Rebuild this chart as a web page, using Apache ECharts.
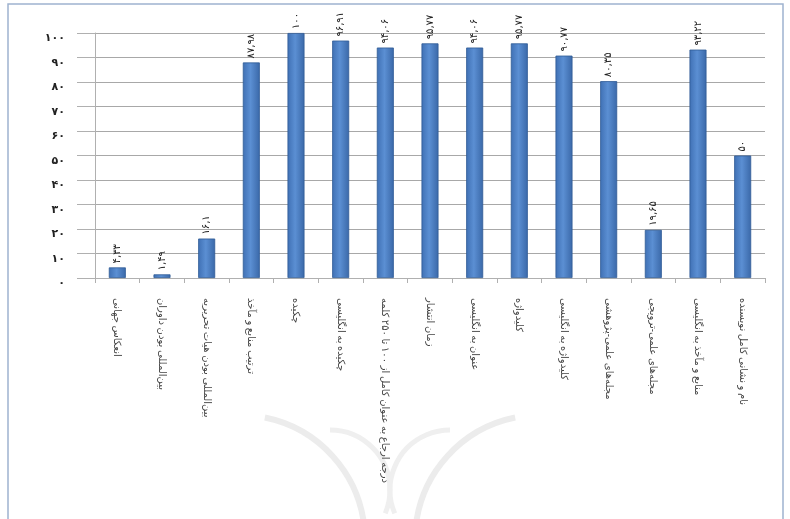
<!DOCTYPE html>
<html><head><meta charset="utf-8">
<script src="https://cdn.jsdelivr.net/npm/echarts@6/dist/echarts.min.js"></script>
<style>html,body{margin:0;padding:0;background:#fff}#c{width:790px;height:519px}</style>
</head><body><div id="c"></div>
<script>
const categories = [
  'انعکاس جهانی',
  'بین‌المللی بودن داوران',
  'بین‌المللی بودن هیات تحریریه',
  'ترتیب منابع و مآخذ',
  'چکیده',
  'چکیده به انگلیسی',
  'درجه ارجاع به عنوان کامل از ۱۰۰ تا ۲۵۰ کلمه',
  'زمان انتشار',
  'عنوان به انگلیسی',
  'کلیدواژه',
  'کلیدواژه به انگلیسی',
  'مجله‌های علمی-پژوهشی',
  'مجله‌های علمی-ترویجی',
  'منابع و مآخذ به انگلیسی',
  'نام و نشانی کامل نویسنده'
];
const values = [4.33, 1.49, 16.1, 87.98, 100, 96.91, 94.06, 95.77, 94.06, 95.77, 90.77, 80.35, 19.65, 93.22, 50];
const yTicks = [0, 10, 20, 30, 40, 50, 60, 70, 80, 90, 100];

const fa = s => String(s).replace(/\d/g, d => '۰۱۲۳۴۵۶۷۸۹'[d]).replace('.', ',');

const chart = echarts.init(document.getElementById('c'));
chart.setOption({
  backgroundColor: '#fff',
  animation: false,
  grid: { left: 95, right: 25, top: 33, bottom: 241 },
  xAxis: {
    type: 'category',
    data: categories,
    axisLine: { lineStyle: { color: '#b0b0b0' } },
    axisTick: { show: true, alignWithLabel: false, lineStyle: { color: '#b0b0b0' } },
    axisLabel: {
      interval: 0, rotate: -90, margin: 20,
      fontFamily: 'Noto Sans, DejaVu Sans', fontSize: 10, color: '#444'
    }
  },
  yAxis: {
    type: 'value', min: yTicks[0], max: yTicks[yTicks.length - 1], interval: 10,
    axisLine: { show: true, lineStyle: { color: '#b0b0b0' } },
    axisTick: { show: true, length: 18, lineStyle: { color: '#b0b0b0' } },
    axisLabel: {
      margin: 30, fontSize: 11, fontWeight: 'bold', color: '#222', fontFamily: 'DejaVu Sans',
      verticalAlign: 'top',
      formatter: v => fa(v)
    },
    splitLine: { lineStyle: { color: '#a8a8a8', width: 1 } }
  },
  series: [{
    type: 'bar',
    data: values,
    barWidth: 17,
    itemStyle: {
      color: new echarts.graphic.LinearGradient(0, 0, 1, 0, [
        { offset: 0, color: '#3f70b4' },
        { offset: 0.45, color: '#5b8fd3' },
        { offset: 1, color: '#3a68a8' }
      ]),
      borderColor: '#2f5a96', borderWidth: 0.8
    },
    label: {
      show: true, position: 'top', rotate: 90, distance: 4,
      align: 'left', verticalAlign: 'middle',
      fontSize: 10, color: '#222', fontFamily: 'DejaVu Sans',
      formatter: p => fa(p.value)
    }
  }],
  graphic: [
    { type: 'rect', shape: { x: 8, y: 4, width: 775, height: 520 }, style: { fill: 'none', stroke: '#9fb3cf', lineWidth: 1.5 }, silent: true, z: -1 },
    { type: 'arc', shape: { cx: 240, cy: 540, r: 125, startAngle: -Math.PI/2 + 0.2, endAngle: -0.1 }, style: { fill: 'none', stroke: '#ececec', lineWidth: 6 }, silent: true, z: -1 },
    { type: 'arc', shape: { cx: 540, cy: 540, r: 125, startAngle: Math.PI + 0.1, endAngle: -Math.PI/2 - 0.2 }, style: { fill: 'none', stroke: '#ececec', lineWidth: 6 }, silent: true, z: -1 },
    { type: 'arc', shape: { cx: 330, cy: 490, r: 60, startAngle: -Math.PI/2, endAngle: 0.4 }, style: { fill: 'none', stroke: '#efefef', lineWidth: 5 }, silent: true, z: -1 },
    { type: 'arc', shape: { cx: 450, cy: 490, r: 60, startAngle: Math.PI - 0.4, endAngle: -Math.PI/2 }, style: { fill: 'none', stroke: '#efefef', lineWidth: 5 }, silent: true, z: -1 }
  ]
});
</script></body></html>
